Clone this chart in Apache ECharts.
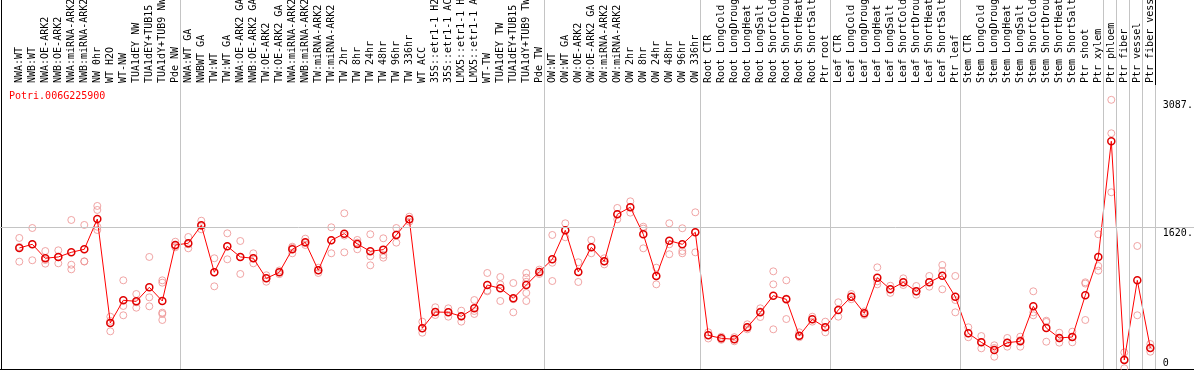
<!DOCTYPE html>
<html>
<head>
<meta charset="utf-8">
<script src="https://cdn.jsdelivr.net/npm/echarts@6/dist/echarts.min.js"></script>
<style>
  html, body { margin: 0; padding: 0; background: #fff; }
  #main { width: 1194px; height: 370px; }
</style>
</head>
<body>
<div id="main"></div>
<script type="text/javascript">
    var geneName = 'Potri.006G225900';

    var categories = [
        'NWA:WT', 'NWB:WT', 'NWA:OE-ARK2', 'NWB:OE-ARK2', 'NWA:miRNA-ARK2', 'NWB:miRNA-ARK2', 'NW 0hr', 'WT H2O', 'WT-NW',
        'TUA1dEY NW', 'TUA1dEY+TUB15 NW', 'TUA1dY+TUB9 NW', 'Pde NW',
        'NWA:WT GA', 'NWBWT GA', 'TW:WT', 'TW:WT GA', 'NWA:OE-ARK2 GA', 'NWB:OE-ARK2 GA', 'TW:OE-ARK2', 'TW:OE-ARK2 GA',
        'NWA:miRNA-ARK2 GA', 'NWB:miRNA-ARK2 GA', 'TW:miRNA-ARK2', 'TW:miRNA-ARK2 GA', 'TW 2hr', 'TW 8hr', 'TW 24hr', 'TW 48hr',
        'TW 96hr', 'TW 336hr', 'WT ACC', '35S::etr1-1 H2O', '35S::etr1-1 ACC', 'LMX5::etr1-1 H2O', 'LMX5::etr1-1 ACC', 'WT-TW',
        'TUA1dEY TW', 'TUA1dEY+TUB15 TW', 'TUA1dY+TUB9 TW', 'Pde TW',
        'OW:WT', 'OW:WT GA', 'OW:OE-ARK2', 'OW:OE-ARK2 GA', 'OW:miRNA-ARK2', 'OW:miRNA-ARK2 GA', 'OW 2hr', 'OW 8hr', 'OW 24hr',
        'OW 48hr', 'OW 96hr', 'OW 336hr',
        'Root CTR', 'Root LongCold', 'Root LongDrought', 'Root LongHeat', 'Root LongSalt', 'Root ShortCold', 'Root ShortDrought',
        'Root ShortHeat', 'Root ShortSalt', 'Ptr root',
        'Leaf CTR', 'Leaf LongCold', 'Leaf LongDrought', 'Leaf LongHeat', 'Leaf LongSalt', 'Leaf ShortCold', 'Leaf ShortDrought',
        'Leaf ShortHeat', 'Leaf ShortSalt', 'Ptr leaf',
        'Stem CTR', 'Stem LongCold', 'Stem LongDrought', 'Stem LongHeat', 'Stem LongSalt', 'Stem ShortCold', 'Stem ShortDrought',
        'Stem ShortHeat', 'Stem ShortSalt', 'Ptr shoot', 'Ptr xylem',
        'Ptr phloem', 'Ptr fiber', 'Ptr vessel', 'Ptr fiber vessel'
    ];

    var means = [
        1388, 1430, 1270, 1285, 1338, 1373, 1720, 528, 788, 776, 937, 780, 1422,
        1442, 1648, 1109, 1407, 1285, 1270, 1040, 1109, 1373, 1453, 1132, 1476, 1552, 1434, 1350, 1369, 1537, 1717,
        467, 654, 650, 604, 696, 963, 925, 811, 963, 1113,
        1258, 1591, 1113, 1396, 1235, 1774, 1855, 1545, 1067, 1472, 1430, 1568,
        386, 352, 341, 478, 650, 841, 799, 382, 570, 478,
        677, 829, 639, 1047, 914, 994, 891, 994, 1070, 829,
        409, 306, 218, 302, 318, 719, 470, 356, 367, 845, 1285,
        2612, 103, 1017, 241
    ];

    var replicates = [
        [1503, 1400, 1231], [1617, 1430, 1247], [1353, 1250, 1208], [1361, 1282, 1212], [1709, 1196, 1143],
        [1652, 1235, 1232], [1870, 1824, 1632, 1594], [600, 552, 432], [1017, 723, 616], [860, 765, 703],
        [1285, 822, 719], [1017, 990, 646, 631, 562], [1460, 1410, 1396],
        [1514, 1430, 1384], [1701, 1640, 1602], [1270, 1109, 948], [1556, 1407, 1258], [1468, 1285, 1090],
        [1327, 1270, 1212], [1075, 1040, 1001], [1130, 1109, 1088], [1403, 1390, 1327], [1495, 1445, 1422],
        [1162, 1132, 1101], [1625, 1476, 1327], [1786, 1530, 1338], [1480, 1450, 1373], [1545, 1293, 1189],
        [1499, 1308, 1277], [1617, 1540, 1449], [1747, 1715, 1690], [543, 467, 416], [708, 654, 619],
        [696, 654, 600], [669, 604, 543], [791, 665, 631], [1101, 900, 891], [1055, 971, 780],
        [986, 800, 650], [1101, 1047, 1000, 872, 780], [1140, 1113, 1090],
        [1537, 1219, 1009], [1671, 1591, 1511], [1224, 1113, 998], [1480, 1396, 1327], [1270, 1235, 1200],
        [1847, 1774, 1717], [1923, 1855, 1793], [1632, 1610, 1384], [1162, 1067, 971], [1671, 1430, 1316],
        [1614, 1353, 1327], [1797, 1568, 1338],
        [421, 390, 350], [370, 352, 335], [365, 341, 318], [513, 478, 455], [696, 660, 596],
        [1120, 971, 455], [1017, 808, 573], [421, 382, 364], [600, 570, 543], [543, 478, 421],
        [765, 677, 600], [860, 829, 800], [660, 639, 620], [1166, 1005, 971], [955, 914, 873],
        [1040, 994, 963], [952, 891, 852], [1067, 994, 944], [1193, 1124, 914], [1067, 791, 650],
        [478, 409, 364], [378, 306, 237], [272, 241, 141], [356, 302, 256], [371, 330, 256],
        [891, 650, 616], [554, 540, 313], [416, 350, 302], [428, 367, 306], [994, 980, 562], [1545, 1181, 1128],
        [3087, 2703, 2027], [191, 110, 8], [1411, 616], [287, 241, 198]
    ];

    // index of first sample in each group (last entry = end)
    var groupStarts = [0, 13, 41, 53, 63, 73, 84, 85, 86, 87, 88];
    var tickValues = [0, 1620, 3087];
    var tickLabels = ['0', '1620.', '3087.'];
    var refLine = 1620;

    var font = 'DejaVu Sans Mono';
    var yMax = 3257;
    var plotLeft = 12.8, plotRight = 37.2;
    var xMin = -0.5, xMax = categories.length - 0.5;

    var repPoints = [];
    replicates.forEach(function (r, i) {
        r.forEach(function (v) { repPoints.push([i, v]); });
    });
    var meanPoints = means.map(function (v, i) { return [i, v]; });

    var hidden = { show: false };
    var blackLine = { show: true, lineStyle: { color: '#000', width: 1 } };

    var myChart = echarts.init(document.getElementById('main'));
    var option = {
        animation: false,
        title: {
            text: geneName, left: 9, top: 91, padding: 0,
            textStyle: { color: '#ff0000', fontFamily: font, fontSize: 10, fontWeight: 'normal' }
        },
        grid: [
            { left: 1, right: 0, top: 0, bottom: 1, outerBoundsMode: 'none' },              // frame
            { left: 0, right: 0, top: 85, bottom: 1, outerBoundsMode: 'none' },             // plot band
            { left: plotLeft, right: plotRight, top: 85, bottom: 1, outerBoundsMode: 'none' }, // data
            { left: plotLeft, right: plotRight, top: 0, bottom: 1, outerBoundsMode: 'none' },  // separators
            { left: plotLeft, right: plotRight, top: 0, height: 85, outerBoundsMode: 'none' }  // label box
        ],
        xAxis: [
            { gridIndex: 0, type: 'value', min: 0, max: 1, position: 'bottom', axisLine: blackLine,
              axisTick: hidden, axisLabel: hidden, splitLine: hidden },
            { gridIndex: 1, type: 'value', min: 0, max: 1, position: 'top', axisLine: blackLine,
              axisTick: hidden, axisLabel: hidden, splitLine: hidden },
            { gridIndex: 2, type: 'category', data: categories, position: 'top',
              axisLine: hidden, axisTick: hidden, splitLine: hidden,
              axisLabel: { interval: 0, rotate: 90, margin: 2, fontFamily: font, fontSize: 10, color: '#000' } },
            { gridIndex: 2, type: 'value', min: xMin, max: xMax, show: false },
            { gridIndex: 3, type: 'value', min: xMin, max: xMax, show: false },
            { gridIndex: 4, type: 'value', min: xMin, max: xMax, show: false }
        ],
        yAxis: [
            { gridIndex: 0, type: 'value', min: 0, max: 1, position: 'left', axisLine: blackLine,
              axisTick: hidden, axisLabel: hidden, splitLine: hidden },
            { gridIndex: 1, type: 'value', min: 0, max: yMax, show: false },
            { gridIndex: 2, type: 'value', min: 0, max: yMax, position: 'right',
              axisLine: hidden, axisTick: hidden, splitLine: hidden,
              axisLabel: {
                  customValues: tickValues, margin: 6, color: '#000', fontFamily: font, fontSize: 10,
                  formatter: function (v) {
                      var s = tickLabels[tickValues.indexOf(v)];
                      return v === 0 ? '{b|' + s + '}' : '{t|' + s + '}';
                  },
                  rich: {
                      t: { padding: [12, 0, 0, 0], fontFamily: font, fontSize: 10, color: '#000' },
                      b: { padding: [0, 0, 12, 0], fontFamily: font, fontSize: 10, color: '#000' }
                  }
              } },
            { gridIndex: 3, type: 'value', min: 0, max: 1, show: false },
            { gridIndex: 4, type: 'value', min: 0, max: 1, show: false }
        ],
        series: [
            {   // horizontal reference line
                type: 'line', xAxisIndex: 1, yAxisIndex: 1, z: 1,
                data: [[0, 0]], symbol: 'none', lineStyle: { opacity: 0 },
                markLine: {
                    silent: true, symbol: 'none', label: { show: false }, animation: false,
                    lineStyle: { color: '#c4c4c4', type: 'solid', width: 1 },
                    data: [{ yAxis: refLine }]
                }
            },
            {   // group separators
                type: 'line', xAxisIndex: 4, yAxisIndex: 3, z: 1,
                data: [[xMin, 0]], symbol: 'none', lineStyle: { opacity: 0 },
                markLine: {
                    silent: true, symbol: 'none', label: { show: false }, animation: false,
                    lineStyle: { color: '#c4c4c4', type: 'solid', width: 1 },
                    data: groupStarts.map(function (k) { return { xAxis: k - 0.65 }; })
                }
            },
            {   // right edge of label box
                type: 'line', xAxisIndex: 5, yAxisIndex: 4, z: 2,
                data: [[xMin, 0]], symbol: 'none', lineStyle: { opacity: 0 },
                markLine: {
                    silent: true, symbol: 'none', label: { show: false }, animation: false,
                    lineStyle: { color: '#000', type: 'solid', width: 1 },
                    data: [{ xAxis: groupStarts[groupStarts.length - 1] - 0.65 }]
                }
            },
            {
                name: 'replicates', type: 'scatter', xAxisIndex: 3, yAxisIndex: 2, z: 3,
                data: repPoints, symbol: 'circle', symbolSize: 7,
                itemStyle: { color: 'rgba(0,0,0,0)', borderColor: '#ec8f8f', borderWidth: 1 }
            },
            {
                name: 'mean', type: 'line', xAxisIndex: 3, yAxisIndex: 2, z: 4,
                data: meanPoints, symbol: 'circle', symbolSize: 7,
                lineStyle: { color: '#ff0000', width: 1 },
                itemStyle: { color: 'rgba(0,0,0,0)', borderColor: '#e00000', borderWidth: 1.5 }
            }
        ]
    };
    myChart.setOption(option);
</script>
</body>
</html>
